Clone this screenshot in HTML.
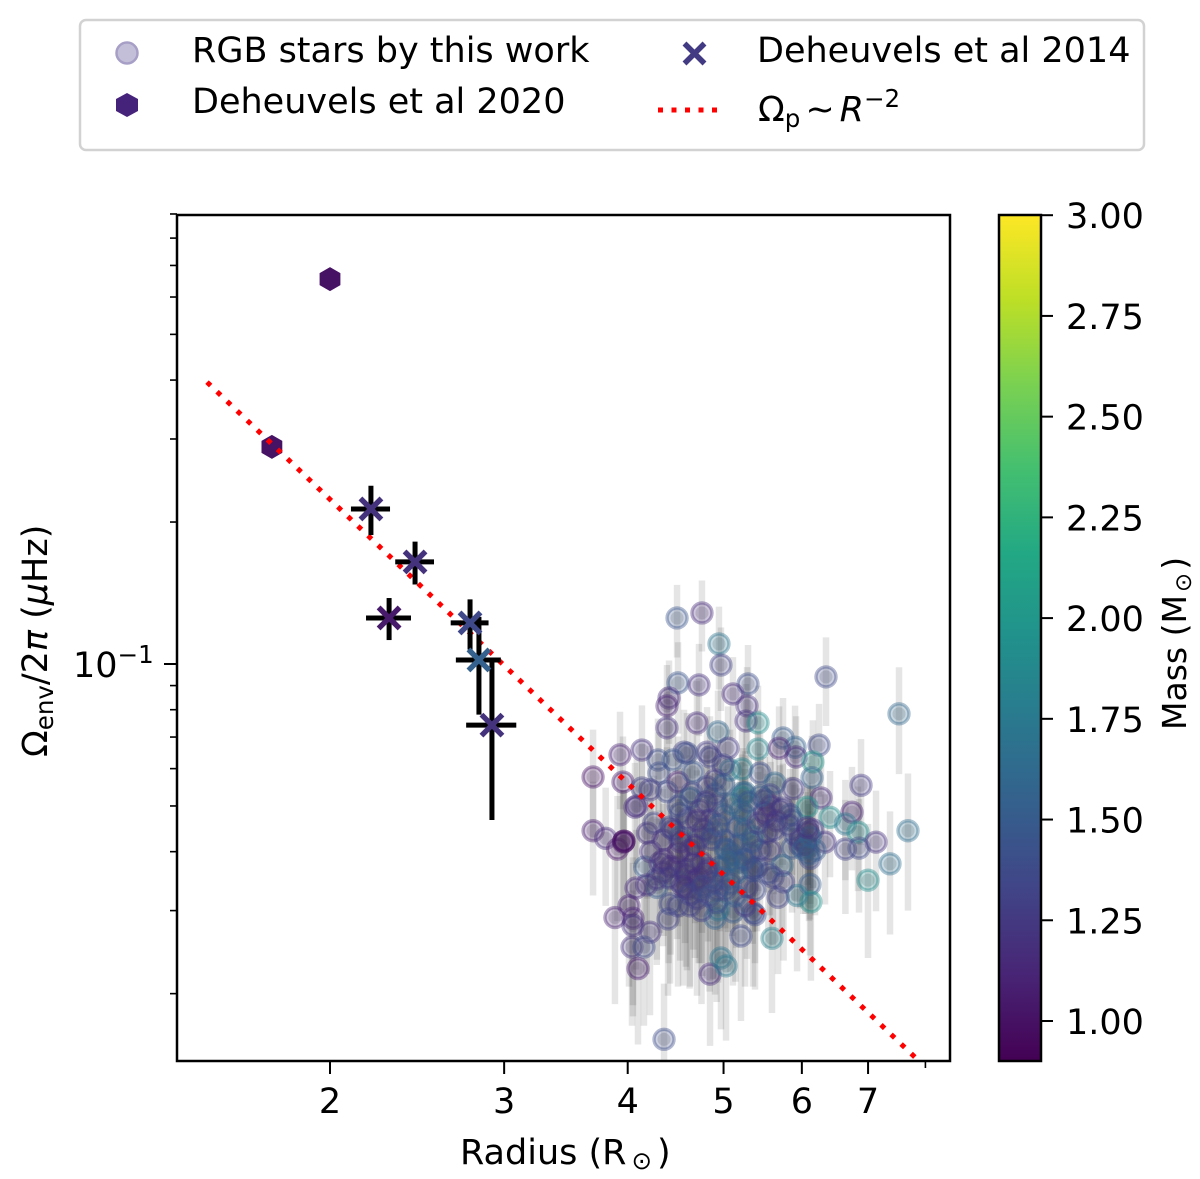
<!DOCTYPE html>
<html lang="en">
<head>
<meta charset="utf-8">
<title>Envelope rotation versus radius</title>
<style>
html,body{margin:0;padding:0;background:#fff;width:1200px;height:1179px;overflow:hidden}
svg{display:block}
text{font-family:"DejaVu Sans","Liberation Sans",sans-serif;fill:#000}
</style>
</head>
<body>
<svg id="chart" xmlns="http://www.w3.org/2000/svg" width="1200" height="1179" viewBox="0 0 1200 1179">
  <defs>
    <clipPath id="plot-clip"><rect x="177" y="215" width="773" height="846"/></clipPath>
    <linearGradient id="viridis-gradient" x1="0" y1="1" x2="0" y2="0">
      <stop offset="0" stop-color="#440154"/><stop offset="0.1" stop-color="#482475"/>
      <stop offset="0.2" stop-color="#414487"/><stop offset="0.3" stop-color="#355f8d"/>
      <stop offset="0.4" stop-color="#2a788e"/><stop offset="0.5" stop-color="#21918c"/>
      <stop offset="0.6" stop-color="#22a884"/><stop offset="0.7" stop-color="#44bf70"/>
      <stop offset="0.8" stop-color="#7ad151"/><stop offset="0.9" stop-color="#bddf26"/>
      <stop offset="1" stop-color="#fde725"/>
    </linearGradient>
  </defs>

  <g>
    <rect x="80" y="20" width="1064" height="130" rx="6" fill="#fff" stroke="#d2d2d2" stroke-width="2.5"/>
    <g>
      <circle cx="127" cy="53" r="10.5" fill="#c4bfd9" stroke="#a79fc6" stroke-width="2.5"/>
      <text x="192" y="62" font-size="35">RGB stars by this work</text>
    </g>
    <g>
      <polygon points="127,93 138,99 138,111 127,117 116,111 116,99" fill="#46237a"/>
      <text x="192" y="113" font-size="35">Deheuvels et al 2020</text>
    </g>
    <g>
      <path d="M684.500 43.500L704.500 63.500M704.500 43.500L684.500 63.500" stroke="#433a84" stroke-width="5.500" fill="none"/>
      <text x="757" y="62" font-size="35">Deheuvels et al 2014</text>
    </g>
    <g>
      <line x1="658" y1="110" x2="720" y2="110" stroke="#ff0000" stroke-width="5" stroke-dasharray="5 8.500"/>
      <text x="758" y="121" font-size="35">Ω<tspan font-size="24.500" dy="6">p</tspan><tspan dy="-6" dx="5">~</tspan><tspan dx="5" font-style="italic">R</tspan><tspan font-size="24.500" dy="-14">−2</tspan></text>
    </g>
  </g>

  <g id="plot-layer"></g>

  <rect x="177" y="215" width="773" height="846" fill="none" stroke="#000" stroke-width="2.500"/>
  <g id="x-axis"></g>
  <g id="y-axis"></g>

  <text x="460" y="1164" font-size="35">Radius (R<tspan font-size="24.500" dy="5" dx="5">⊙</tspan><tspan dy="-5" dx="5">)</tspan></text>
  <text transform="translate(47,757) rotate(-90)" x="0" y="0" font-size="35">Ω<tspan font-size="24.500" dy="6">env</tspan><tspan dy="-6">/2</tspan><tspan font-style="italic">π</tspan> (<tspan font-style="italic">μ</tspan>Hz)</text>

  <g>
    <rect x="999" y="215" width="42" height="846" fill="url(#viridis-gradient)" stroke="#000" stroke-width="2.500"/>
    <g id="colorbar-ticks"></g>
    <text transform="translate(1186,730) rotate(-90)" x="0" y="0" font-size="33">Mass (M<tspan font-size="23" dy="5" dx="3">⊙</tspan><tspan dy="-5" dx="3">)</tspan></text>
  </g>
</svg>

<script>
const radius = [
  4.487,4.755,4.947,4.970,4.497,4.722,5.293,5.111,5.281,4.404,
  4.383,4.383,4.700,4.936,5.269,5.418,5.418,5.053,4.811,4.560,
  4.135,3.929,3.690,3.956,4.292,4.445,4.302,4.497,4.213,4.135,
  4.383,4.086,4.811,4.656,4.845,4.592,5.076,5.219,5.231,4.994,
  4.645,4.924,5.443,6.347,7.523,5.743,5.906,5.690,5.919,6.245,
  6.156,6.143,5.636,5.878,6.274,6.886,6.073,6.407,6.743,6.640,
  6.838,7.682,7.131,6.333,6.640,6.854,7.367,6.999,6.087,6.087,
  6.115,5.864,5.864,5.531,5.355,5.571,5.730,6.115,6.128,5.933,
  5.677,5.355,5.257,5.281,5.355,5.610,3.690,3.800,3.965,3.906,
  4.068,4.162,4.078,4.012,3.883,4.049,4.049,4.213,4.040,4.154,
  4.097,4.353,4.394,4.592,4.845,4.970,5.029,5.207,5.597,5.380,
  5.111,4.902,4.936,4.188,4.251,4.342,4.312,4.487,4.755,4.845,
  4.624,4.518,5.219,4.924,4.733,4.281,4.414,4.571,5.041,5.160,
  4.414,4.959,5.318,4.733,4.518,4.879,4.624,5.160,5.405,5.531,
  4.678,4.822,4.342,4.518,4.624,5.443,5.703,5.975,6.187,6.156,
  5.135,5.017,4.733,4.902,5.005,5.257,5.505,5.571,5.837,5.380,
  5.257,4.497,5.017,
  4.35,4.42,4.50,4.58,4.66,4.72,4.80,4.88,4.40,4.55,
  4.62,4.70,4.76,4.84,4.92,5.00,5.08,5.14,4.52,4.68,
  4.78,4.86,4.94,5.02,5.10,5.18,5.26,5.34,5.42,5.50,
  5.58,5.66,5.74,5.82,5.90,5.98,6.05,6.12,5.45,5.62,
  5.10,5.20,5.30,4.90,5.00,4.80,4.60,4.50,4.45,4.70,
  5.35,5.15,4.75,6.02,6.10,6.08,5.75,5.55,5.25,5.05,
  4.22,4.28,4.18,3.965,3.96
];
const omega = [
  .1252,.1283,.1103,.0995,.0912,.0903,.0907,.0864,.0815,.0847,
  .0815,.0732,.0750,.0718,.0757,.0750,.0660,.0663,.0650,.0650,
  .0657,.0642,.0576,.0562,.0626,.0626,.0587,.0562,.0541,.0546,
  .0536,.0500,.0549,.0590,.0635,.0647,.0596,.0599,.0533,.0611,
  .0533,.0502,.0587,.0939,.0784,.0697,.0666,.0663,.0635,.0673,
  .0620,.0574,.0559,.0544,.0520,.0553,.0497,.0473,.0485,.0458,
  .0440,.0443,.0419,.0419,.0405,.0407,.0377,.0348,.0440,.0409,
  .0387,.0407,.0467,.0475,.0430,.0403,.0374,.0341,.0313,.0323,
  .0320,.0370,.0533,.0337,.0297,.0353,.0443,.0427,.0421,.0405,
  .0497,.0371,.0335,.0307,.0290,.0289,.0279,.0270,.0251,.0251,
  .0226,.0160,.0288,.0334,.0220,.0238,.0229,.0265,.0262,.0294,
  .0298,.0289,.0301,.0438,.0460,.0423,.0379,.0371,.0379,.0467,
  .0520,.0482,.0523,.0332,.0332,.0336,.0310,.0366,.0403,.0452,
  .0451,.0371,.0397,.0429,.0429,.0438,.0403,.0379,.0371,.0438,
  .0348,.0368,.0362,.0345,.0307,.0403,.0490,.0413,.0403,.0445,
  .0384,.0332,.0490,.0568,.0479,.0479,.0515,.0528,.0479,.0332,
  .0307,.0307,.0423,
  .0385,.0372,.0398,.0358,.0378,.0352,.0362,.0345,.0352,.0338,
  .0325,.0318,.0338,.0322,.0312,.0352,.0342,.0322,.0420,.0412,
  .0445,.0425,.0455,.0405,.0395,.0415,.0445,.0420,.0460,.0485,
  .0500,.0465,.0495,.0455,.0435,.0425,.0415,.0430,.0525,.0445,
  .0505,.0490,.0510,.0530,.0555,.0510,.0470,.0500,.0445,.0465,
  .0365,.0360,.0300,.0405,.0395,.0450,.0345,.0360,.0385,.0380,
  .0400,.0350,.0340,.0421,.0419
];
const omegaErr = [
  .022,.022,.022,.020,.020,.020,.019,.017,.017,.017,
  .018,.016,.017,.016,.015,.015,.014,.015,.016,.015,
  .016,.015,.015,.014,.014,.013,.013,.014,.013,.013,
  .013,.013,.013,.013,.014,.014,.013,.013,.013,.014,
  .014,.013,.013,.020,.020,.015,.015,.015,.014,.015,
  .014,.013,.013,.013,.012,.014,.012,.012,.012,.011,
  .011,.0143,.012,.011,.011,.011,.011,.011,.011,.011,
  .010,.011,.011,.011,.011,.011,.010,.010,.010,.010,
  .010,.010,.012,.010,.009,.010,.012,.012,.012,.012,
  .012,.011,.011,.010,.010,.010,.010,.009,.008,.008,
  .007,.005,.009,.011,.0065,.007,.007,.009,.008,.009,
  .009,.009,.009,.012,.012,.012,.011,.011,.011,.012,
  .012,.012,.012,.010,.010,.010,.010,.011,.011,.011,
  .012,.010,.010,.011,.011,.011,.011,.010,.010,.011,
  .011,.011,.011,.011,.010,.011,.012,.011,.011,.011,
  .011,.010,.012,.013,.012,.012,.012,.012,.012,.010,
  .010,.010,.011,
  .012,.013,.012,.013,.013,.012,.013,.013,.012,.013,
  .012,.012,.012,.012,.012,.012,.012,.011,.013,.013,
  .013,.013,.013,.013,.013,.013,.013,.013,.013,.013,
  .012,.012,.012,.012,.012,.012,.012,.012,.012,.012,
  .013,.013,.013,.013,.013,.013,.013,.013,.013,.013,
  .011,.011,.011,.011,.011,.011,.011,.011,.011,.011,
  .012,.012,.012,.012,.012
];
const mass = [
  1.45,1.15,1.7,1.3,1.45,1.2,1.4,1.15,1.2,1.15,
  1.1,1.2,1.15,1.6,1.2,1.9,1.85,1.25,1.25,1.3,
  1.2,1.1,1.0,1.05,1.4,1.45,1.4,1.1,1.25,1.3,
  1.35,1.2,1.3,1.45,1.3,1.4,1.7,1.8,1.6,1.3,
  1.35,1.35,1.4,1.35,1.6,1.5,1.55,1.1,1.15,1.35,
  2.0,1.55,1.6,1.25,1.15,1.25,1.95,1.9,1.1,1.7,
  1.9,1.65,1.2,1.2,1.3,1.35,1.65,1.9,1.2,1.55,
  1.35,1.45,1.5,1.2,1.8,1.25,1.6,1.5,1.95,1.75,
  1.3,1.5,1.6,1.25,1.4,1.3,1.05,1.15,.97,1.0,
  1.15,1.5,1.15,1.1,1.1,1.1,1.2,1.2,1.2,1.35,
  1.05,1.4,1.3,1.1,1.15,1.7,1.75,1.35,1.8,1.35,
  1.5,1.55,1.7,1.2,1.3,1.2,1.2,1.2,1.2,1.2,
  1.5,1.4,1.8,1.35,1.4,1.5,1.35,1.3,1.5,1.4,
  1.3,1.45,1.4,1.35,1.45,1.5,1.2,1.5,1.3,1.25,
  1.2,1.25,1.2,1.35,1.3,1.3,1.25,1.3,1.5,1.25,
  1.5,1.3,1.25,1.25,1.45,1.5,1.25,1.3,1.45,1.35,
  1.25,1.3,1.4,
  1.18,1.2,1.15,1.2,1.22,1.18,1.2,1.25,1.25,1.2,
  1.3,1.25,1.35,1.4,1.4,1.45,1.35,1.5,1.2,1.2,
  1.25,1.3,1.45,1.5,1.55,1.45,1.55,1.45,1.3,1.2,
  1.2,1.2,1.25,1.3,1.35,1.25,1.2,1.6,1.5,1.3,
  1.55,1.6,1.45,1.4,1.5,1.25,1.3,1.35,1.25,1.2,
  1.4,1.6,1.3,1.55,1.5,1.2,1.3,1.35,1.45,1.55,
  1.2,1.25,1.2,.97,1.0
];

const hexRadius = [2.0, 1.747];
const hexOmega = [0.655, 0.2886];
const hexMass = [1.0, 1.0];

const d14Radius = [2.200, 2.438, 2.295, 2.771, 2.829, 2.916];
const d14RadiusErr = [0.100, 0.110, 0.120, 0.122, 0.148, 0.170];
const d14Omega = [0.2132, 0.1646, 0.1252, 0.1222, 0.1020, 0.0742];
const d14OmegaErr = [0.0255, 0.0172, 0.0128, 0.0149, 0.0239, 0.0275];
const d14Mass = [1.2, 1.2, 1.05, 1.35, 1.55, 1.2];

const guideRadius = [1.502, 7.83];
const guideOmega = [0.396, 0.01458];

const xMajorTicks = [2, 3, 4, 5, 6, 7];
const xMinorTicks = [8];
const yMajorTicks = [0.1];
const yMinorTicks = [0.02, 0.03, 0.04, 0.05, 0.06, 0.07, 0.08, 0.09, 0.2, 0.3, 0.4, 0.5, 0.6, 0.7, 0.8, 0.9];
const colorbarTicks = [1.00, 1.25, 1.50, 1.75, 2.00, 2.25, 2.50, 2.75, 3.00];
const viridisStops = ['#440154','#482475','#414487','#355f8d','#2a788e','#21918c','#22a884','#44bf70','#7ad151','#bddf26','#fde725'];

const SVG_NS = 'http://www.w3.org/2000/svg';
function xScale(r) { return 330 + 429.5 * Math.log(r / 2); }
function yScale(o) { return 664 - 471.6 * Math.log10(o / 0.1); }
function massScale(m) { return 1021 - (m - 1) * 402.9; }
function make(tag, props, parent) {
  const node = document.createElementNS(SVG_NS, tag);
  for (const key in props) node.setAttribute(key, props[key]);
  parent.appendChild(node);
  return node;
}
function viridis(m) {
  const t = Math.min(1, Math.max(0, (m - 0.9) / 2.1)) * 10;
  const i = Math.min(9, Math.floor(t));
  const f = t - i;
  const parse = h => [1, 3, 5].map(p => parseInt(h.substr(p, 2), 16));
  const a = parse(viridisStops[i]);
  const b = parse(viridisStops[i + 1]);
  const c = a.map((v, k) => Math.round(v + (b[k] - v) * f));
  return 'rgb(' + c.join(',') + ')';
}

const plot = document.getElementById('plot-layer');
const clipped = make('g', { 'clip-path': 'url(#plot-clip)' }, plot);



radius.forEach((r, i) => {
  const bar = make('line', {
    x1: xScale(r), x2: xScale(r),
    y1: yScale(omega[i] + omegaErr[i]), y2: yScale(Math.max(omega[i] - omegaErr[i], 0.001)),
    stroke: '#000', 'stroke-opacity': 0.1, 'stroke-width': 6.5
  }, clipped);
  
  
});

radius.forEach((r, i) => {
  const core = make('circle', {
    cx: xScale(r), cy: yScale(omega[i]), r: 6.5, fill: '#555', 'fill-opacity': 0.2
  }, clipped);
  
  
  const dot = make('circle', {
    cx: xScale(r), cy: yScale(omega[i]), r: 10,
    fill: viridis(mass[i]), 'fill-opacity': 0.26,
    stroke: viridis(mass[i]), 'stroke-opacity': 0.4, 'stroke-width': 3.4
  }, clipped);
  
  
});

const guide = make('line', {
  x1: xScale(guideRadius[0]), y1: yScale(guideOmega[0]),
  x2: xScale(guideRadius[1]), y2: yScale(guideOmega[1]),
  stroke: '#ff0000', 'stroke-width': 5, 'stroke-dasharray': '5 8.9'
}, clipped);



hexRadius.forEach((r, i) => {
  const cx = xScale(r);
  const cy = yScale(hexOmega[i]);
  const pts = [0, 60, 120, 180, 240, 300].map(a => {
    const t = a * Math.PI / 180;
    return (cx + 12 * Math.sin(t)).toFixed(1) + ',' + (cy - 12 * Math.cos(t)).toFixed(1);
  }).join(' ');
  const hex = make('polygon', { points: pts, fill: viridis(hexMass[i]) }, plot);
  
  
});
plot.appendChild(guide);

d14Radius.forEach((r, i) => {
  const cx = xScale(r);
  const cy = yScale(d14Omega[i]);
  const hBar = make('line', {
    x1: xScale(r - d14RadiusErr[i]), x2: xScale(r + d14RadiusErr[i]), y1: cy, y2: cy,
    stroke: '#000', 'stroke-width': 5
  }, plot);
  
  
  const vBar = make('line', {
    x1: cx, x2: cx, y1: yScale(d14Omega[i] + d14OmegaErr[i]), y2: yScale(d14Omega[i] - d14OmegaErr[i]),
    stroke: '#000', 'stroke-width': 5
  }, plot);
  
  
});
d14Radius.forEach((r, i) => {
  const cx = xScale(r);
  const cy = yScale(d14Omega[i]);
  const h = 10.5;
  const cross = make('path', {
    d: 'M' + (cx - h) + ' ' + (cy - h) + 'L' + (cx + h) + ' ' + (cy + h) + 'M' + (cx + h) + ' ' + (cy - h) + 'L' + (cx - h) + ' ' + (cy + h),
    stroke: viridis(d14Mass[i]), 'stroke-width': 5.4, fill: 'none'
  }, plot);
  
  
});

const xAxis = document.getElementById('x-axis');
xMajorTicks.forEach(v => {
  const tick = make('line', { x1: xScale(v), x2: xScale(v), y1: 1061, y2: 1074, stroke: '#000', 'stroke-width': 2 }, xAxis);
  
  
  const label = make('text', { x: xScale(v), y: 1113, 'font-size': 35, 'text-anchor': 'middle' }, xAxis);
  
  
  label.textContent = String(v);
});
xMinorTicks.forEach(v => {
  const tick = make('line', { x1: xScale(v), x2: xScale(v), y1: 1061, y2: 1068, stroke: '#000', 'stroke-width': 1.6 }, xAxis);
  
  
});

const yAxis = document.getElementById('y-axis');
yMinorTicks.forEach(v => {
  const tick = make('line', { x1: 170, x2: 177, y1: yScale(v), y2: yScale(v), stroke: '#000', 'stroke-width': 1.6 }, yAxis);
  
  
});
yMajorTicks.forEach(v => {
  const tick = make('line', { x1: 164, x2: 177, y1: yScale(v), y2: yScale(v), stroke: '#000', 'stroke-width': 2 }, yAxis);
  
  
  const label = make('text', { x: 73, y: yScale(v) + 13, 'font-size': 35 }, yAxis);
  
  
  label.textContent = '10';
  const power = make('tspan', { 'font-size': 24.5, dy: -14 }, label);
  power.textContent = '\u22121';
});

const cbTicks = document.getElementById('colorbar-ticks');
colorbarTicks.forEach(v => {
  const y = massScale(v);
  const tick = make('line', { x1: 1041, x2: 1053, y1: y, y2: y, stroke: '#000', 'stroke-width': 2 }, cbTicks);
  
  
  const label = make('text', { x: 1066, y: y + 13, 'font-size': 35 }, cbTicks);
  
  
  label.textContent = v.toFixed(2);
});
</script>
</body>
</html>
